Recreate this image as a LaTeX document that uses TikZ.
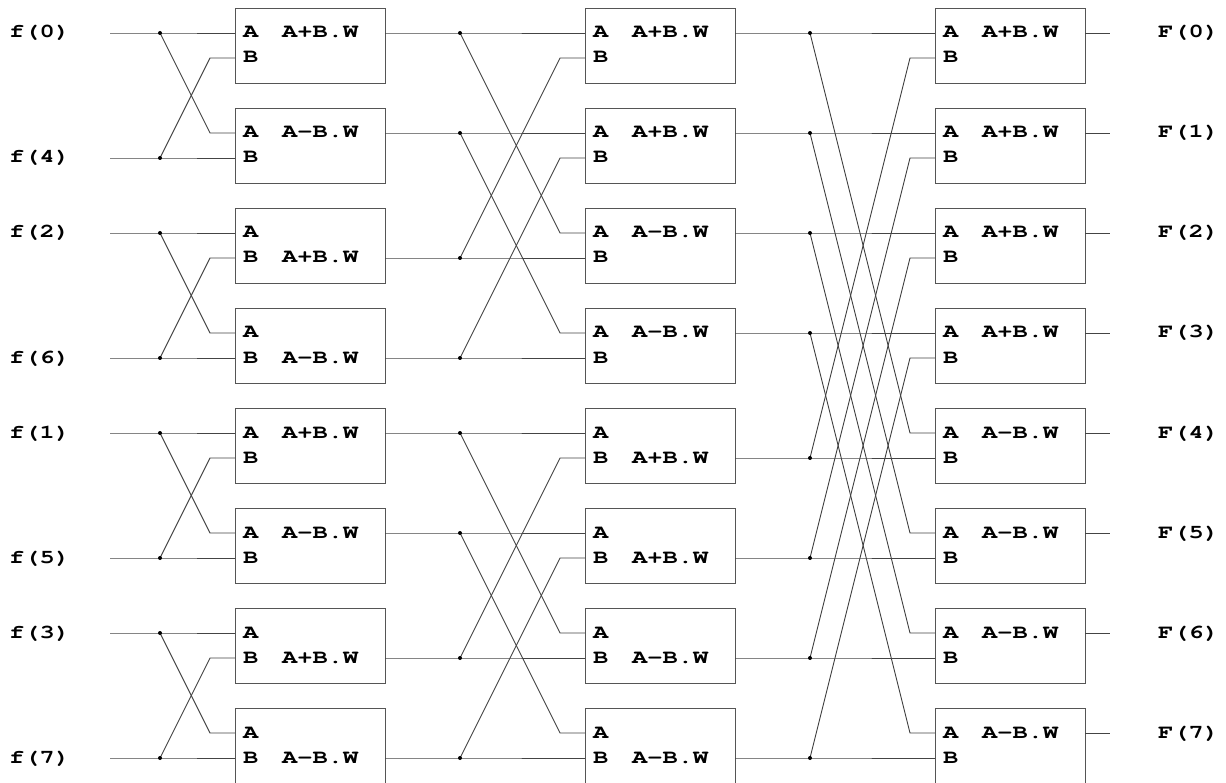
\documentclass[tikz,border=0pt]{standalone}
\usepackage[T1]{fontenc}
\usepackage{graphicx}
\usetikzlibrary{calc}
\definecolor{wiregray}{HTML}{444444}
\definecolor{boxgray}{HTML}{555555}
\newcommand{\wide}[1]{\scalebox{1.3}[1]{#1}}
\begin{document}
\begin{tikzpicture}[x=1pt,y=-1pt,
  box/.style={draw=boxgray, line width=1pt, minimum width=150pt, minimum height=75pt, inner sep=0pt, anchor=north west},
  wire/.style={draw=wiregray, line width=0.9pt},
  dotnode/.style={circle, fill=black, inner sep=0pt, minimum size=4pt},
  lab/.style={inner sep=0pt, anchor=base west, font=\fontfamily{pcr}\fontseries{b}\fontsize{19.5}{19.5}\selectfont}]
\useasboundingbox (0,0) rectangle (1226,783);
% boxes and ports
\foreach \s/\xl in {1/235,2/585,3/935} {
  \foreach \r in {0,...,7} {
    \pgfmathsetmacro\ty{8+100*\r}
    \node[box] (b\s-\r) at (\xl,\ty) {};
    \coordinate (p\s-\r-A) at (\xl,\ty+25);
    \coordinate (p\s-\r-B) at (\xl,\ty+50);
    \coordinate (o\s-\r-A) at (\xl+150,\ty+25);
    \coordinate (o\s-\r-B) at (\xl+150,\ty+50);
    \node[lab] (la\s-\r) at (\xl+8,\ty+30) {\wide{A}};
    \node[lab] (lb\s-\r) at (\xl+8,\ty+55) {\wide{B}};
  }
}
% result labels
\foreach \r/\side/\txt in {0/A/A+B.W,1/A/A-B.W,2/B/A+B.W,3/B/A-B.W,4/A/A+B.W,5/A/A-B.W,6/B/A+B.W,7/B/A-B.W}
  \node[lab] (r1-\r) at ($(p1-\r-\side)+(47,5)$) {\wide{\txt}};
\foreach \r/\side/\txt in {0/A/A+B.W,1/A/A+B.W,2/A/A-B.W,3/A/A-B.W,4/B/A+B.W,5/B/A+B.W,6/B/A-B.W,7/B/A-B.W}
  \node[lab] (r2-\r) at ($(p2-\r-\side)+(47,5)$) {\wide{\txt}};
\foreach \r/\side/\txt in {0/A/A+B.W,1/A/A+B.W,2/A/A+B.W,3/A/A+B.W,4/A/A-B.W,5/A/A-B.W,6/A/A-B.W,7/A/A-B.W}
  \node[lab] (r3-\r) at ($(p3-\r-\side)+(47,5)$) {\wide{\txt}};
% stage 1 inputs
\foreach \g/\fa/\fb in {0/0/4,1/2/6,2/1/5,3/3/7} {
  \pgfmathtruncatemacro\ra{2*\g}
  \pgfmathtruncatemacro\rb{2*\g+1}
  \pgfmathsetmacro\ya{33+200*\g}
  \pgfmathsetmacro\yb{158+200*\g}
  \node[lab] (fin\fa) at (9,\ya+5) {\wide{f(\fa)}};
  \node[lab] (fin\fb) at (9,\yb+5) {\wide{f(\fb)}};
  \coordinate (i\fa) at (110,\ya);
  \coordinate (i\fb) at (110,\yb);
  \coordinate (d1-\ra) at (160,\ya);
  \coordinate (d1-\rb) at (160,\yb);
  \draw[wire] (i\fa) -- (d1-\ra) -- (p1-\ra-A);
  \draw[wire] (d1-\ra) -- ($(p1-\rb-A)+(-25,0)$) -- (p1-\rb-A);
  \draw[wire] (i\fb) -- (d1-\rb) -- (p1-\rb-B);
  \draw[wire] (d1-\rb) -- ($(p1-\ra-B)+(-25,0)$) -- (p1-\ra-B);
}
% stage 2
\foreach \r/\t/\side in {0/2/A,1/3/A,4/6/A,5/7/A,2/0/B,3/1/B,6/4/B,7/5/B} {
  \coordinate (d2-\r) at ($(o1-\r-\side)+(75,0)$);
  \draw[wire] (o1-\r-\side) -- (d2-\r) -- (p2-\r-\side);
  \draw[wire] (d2-\r) -- ($(p2-\t-\side)+(-25,0)$) -- (p2-\t-\side);
}
% stage 3
\foreach \r/\t/\side in {0/4/A,1/5/A,2/6/A,3/7/A,4/0/B,5/1/B,6/2/B,7/3/B} {
  \coordinate (d3-\r) at ($(o2-\r-\side)+(75,0)$);
  \draw[wire] (o2-\r-\side) -- (d3-\r) -- (p3-\r-\side);
  \draw[wire] (d3-\r) -- ($(p3-\t-\side)+(-25,0)$) -- (p3-\t-\side);
}
% outputs
\foreach \r in {0,...,7} {
  \coordinate (e\r) at ($(o3-\r-A)+(25,0)$);
  \draw[wire] (o3-\r-A) -- (e\r);
  \node[lab] (Fout\r) at ($(o3-\r-A)+(73,5)$) {\wide{F(\r)}};
}
% junction dots
\foreach \s in {1,2,3} {
  \foreach \r in {0,...,7} {
    \node[dotnode] (dot\s-\r) at (d\s-\r) {};
  }
}
\end{tikzpicture}
\end{document}
